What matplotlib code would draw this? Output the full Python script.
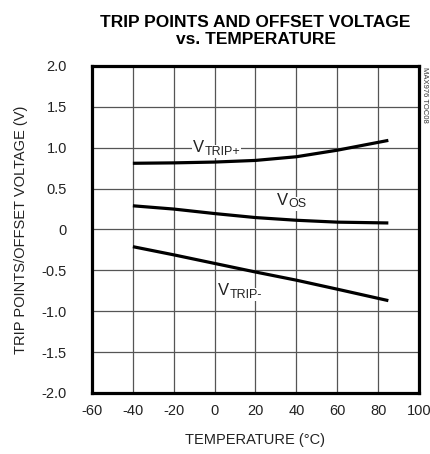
import matplotlib
matplotlib.use("Agg")
import matplotlib.pyplot as plt

# ---- data ----
temperature = [-40, -20, 0, 20, 40, 60, 85]
v_trip_plus = [0.81, 0.815, 0.825, 0.845, 0.89, 0.97, 1.09]
v_os = [0.29, 0.25, 0.195, 0.146, 0.113, 0.09, 0.08]
v_trip_minus = [-0.21, -0.31, -0.415, -0.52, -0.62, -0.73, -0.87]

x_ticks = [-60, -40, -20, 0, 20, 40, 60, 80, 100]
y_ticks = [2.0, 1.5, 1.0, 0.5, 0.0, -0.5, -1.0, -1.5, -2.0]
y_tick_labels = ["2.0", "1.5", "1.0", "0.5", "0", "-0.5", "-1.0", "-1.5", "-2.0"]

title = "TRIP POINTS AND OFFSET VOLTAGE\nvs. TEMPERATURE"
x_label = "TEMPERATURE (°C)"
y_label = "TRIP POINTS/OFFSET VOLTAGE (V)"
side_note = "MAX976 TOC08"

# curve labels: (main, subscript, x, y)
curve_labels = [("V", "TRIP+", -10.5, 1.0), ("V", "OS", 30.7, 0.36), ("V", "TRIP-", 1.8, -0.75)]

FONT = ["Liberation Sans Narrow", "Liberation Sans", "DejaVu Sans"]
plt.rcParams["font.family"] = FONT

fig = plt.figure(figsize=(4.31, 4.54), dpi=100)
ax = fig.add_axes([92 / 431, 1 - 393 / 454, 327 / 431, 327 / 454])

ax.set_xlim(-60, 100)
ax.set_ylim(-2.0, 2.0)
ax.set_xticks(x_ticks)
ax.set_xticklabels([str(t) for t in x_ticks])
ax.set_yticks(y_ticks)
ax.set_yticklabels(y_tick_labels)
ax.tick_params(length=0, labelsize=10.5, colors="#222222")
ax.tick_params(axis="y", pad=18)
ax.tick_params(axis="x", pad=8)
ax.grid(True, color="#555555", linewidth=0.9)
ax.set_axisbelow(True)
for s in ax.spines.values():
    s.set_linewidth(2.3)
    s.set_color("black")

lw = 2.3
ax.plot(temperature, v_trip_plus, color="black", lw=lw, solid_capstyle="butt", zorder=3)
ax.plot(temperature, v_os, color="black", lw=lw, solid_capstyle="butt", zorder=3)
ax.plot(temperature, v_trip_minus, color="black", lw=lw, solid_capstyle="butt", zorder=3)

for main, sub, lx, ly in curve_labels:
    t = ax.text(lx, ly, main, fontsize=12, va="center", ha="left",
                bbox=dict(facecolor="white", edgecolor="none", pad=0.5),
                zorder=5, color="#222222")
    ax.annotate(sub, xy=(1.0, 0.0), xycoords=t, xytext=(0.0, 0.5),
                textcoords="offset points", fontsize=9, va="baseline", ha="left",
                bbox=dict(facecolor="white", edgecolor="none", pad=0.5),
                zorder=4, color="#222222")

ax.set_xlabel(x_label, fontsize=10.5, labelpad=11, color="#222222")
ax.set_ylabel(y_label, fontsize=10.5, labelpad=10, color="#222222")
fig.text(255.5 / 431, 1 - 31 / 454, title, ha="center", va="center",
         fontsize=12.5, fontweight="bold", linespacing=1.15)
fig.text(425 / 431, 1 - 95 / 454, side_note, rotation=270, ha="center", va="center",
         fontsize=5.5, color="#333333", family=["Liberation Sans", "DejaVu Sans"])

fig.savefig("out.png", dpi=100)
